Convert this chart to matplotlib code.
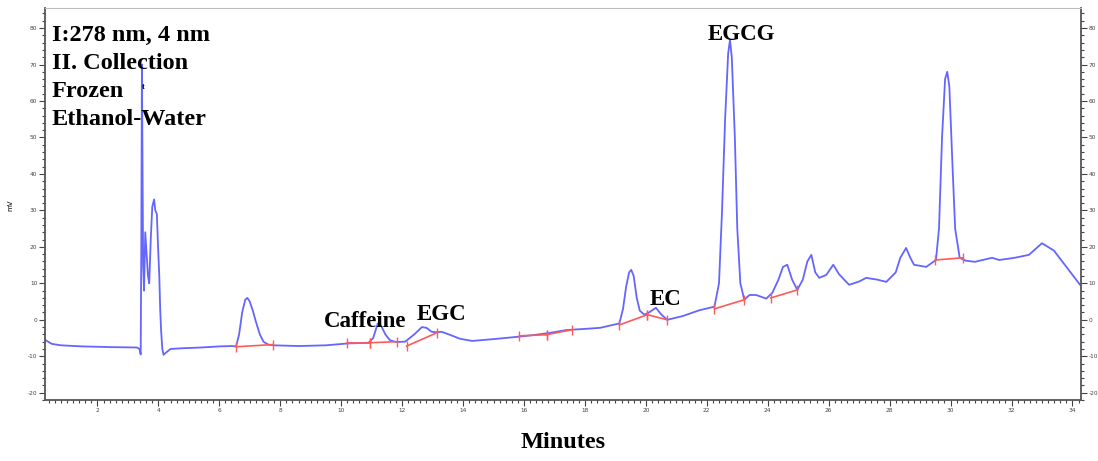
import matplotlib
matplotlib.use("Agg")
import matplotlib.pyplot as plt
from matplotlib.ticker import MultipleLocator

plt.rcParams["axes.unicode_minus"] = False

# chromatogram trace (minutes, signal)
time = [0.28, 0.5, 0.8, 1.5, 2.5, 3.3, 3.38, 3.42, 3.44, 3.46, 3.48, 3.50, 3.53,
        3.57, 3.60, 3.66, 3.70, 3.75, 3.80, 3.86, 3.90, 3.95, 3.99, 4.03, 4.06,
        4.09, 4.13, 4.17, 4.25, 4.4, 4.8, 5.4, 6.0, 6.4, 6.55, 6.65, 6.75, 6.85,
        6.92, 7.0, 7.1, 7.2, 7.33, 7.45, 7.6, 7.8, 8.6, 9.5, 10.2, 10.9, 11.05,
        11.2, 11.3, 11.45, 11.6, 11.8, 12.1, 12.4, 12.65, 12.8, 12.97, 13.1, 13.3,
        13.56, 13.9, 14.3, 15.0, 15.75, 16.3, 16.84, 17.4, 18.0, 18.5, 19.13,
        19.25, 19.35, 19.45, 19.52, 19.6, 19.7, 19.8, 19.95, 20.1, 20.33, 20.5,
        20.7, 21.2, 21.75, 22.25, 22.4, 22.5, 22.6, 22.7, 22.76, 22.82, 22.92,
        23.0, 23.1, 23.23, 23.4, 23.62, 23.95, 24.15, 24.35, 24.5, 24.64, 24.8,
        24.97, 25.15, 25.3, 25.43, 25.56, 25.69, 25.92, 26.15, 26.34, 26.67, 27.0,
        27.23, 27.6, 27.89, 28.2, 28.35, 28.54, 28.68, 28.8, 29.2, 29.52, 29.62,
        29.72, 29.82, 29.89, 29.96, 30.05, 30.15, 30.3, 30.5, 30.8, 31.36, 31.6,
        32.1, 32.57, 33.0, 33.39, 34.25]
signal = [-5.5, -6.6, -7.0, -7.3, -7.5, -7.6, -8.0, -9.5, 20, 70, 40, 15, 8,
          24, 20, 12, 10, 22, 31, 33, 30, 29, 20, 12, 3,
          -3, -8, -9.6, -9, -8, -7.8, -7.6, -7.3, -7.2, -7.3, -4, 2, 5.5,
          6.0, 5, 2.5, -0.5, -4, -6, -6.8, -7.0, -7.2, -7.0, -6.5, -6.3, -5,
          -1, -1.5, -4, -5.6, -6.1, -6.0, -4.0, -2.0, -2.2, -3.3, -3.4, -3.3,
          -4.1, -5.2, -5.8, -5.3, -4.7, -4.2, -3.6, -2.8, -2.5, -2.2, -1.0,
          3, 9, 13, 13.7, 12, 6, 2.5, 1.4, 2.0, 3.3, 1.5,
          0.0, 1.0, 2.6, 3.6, 10, 30, 55, 73, 76.7, 72, 50,
          25, 10, 5.5, 6.8, 6.8, 5.8, 7.4, 11, 14.5, 15.1, 11,
          8.2, 11, 16, 17.8, 13, 11.5, 12.3, 15.1, 12.5, 9.6, 10.5,
          11.5, 11.0, 10.4, 13, 17, 19.7, 17, 15.1, 14.5, 16.4, 25,
          50, 66, 68, 64, 45, 25, 17, 16.2, 15.9, 17.0, 16.4,
          17.0, 17.8, 21, 19, 9.6]

# integration baselines: start time, start value, end time, end value
base_t0 = [6.56, 10.18, 10.93, 12.15, 15.85, 16.74, 19.13, 20.05, 22.25, 24.1, 29.5]
base_y0 = [-7.4, -6.3, -6.3, -7.2, -4.4, -4.1, -1.4, 1.4, 3.0, 6.0, 16.4]
base_t1 = [7.75, 10.93, 11.82, 13.13, 16.74, 17.59, 20.05, 20.7, 23.23, 24.97, 30.4]
base_y1 = [-6.8, -6.3, -6.0, -3.6, -4.1, -2.7, 1.4, 0.0, 5.5, 8.2, 17.0]

# peak labels
peak_names = ["Caffeine", "EGC", "EC", "EGCG"]
peak_t = [10.8, 13.3, 20.65, 23.15]
peak_y = [-1.9, 0.0, 4.1, 76.6]

# run description, one text per line
header_lines = ["I:278 nm, 4 nm", "II. Collection", "Frozen", "Ethanol-Water"]
header_y = [78.1, 70.4, 62.5, 54.8]

fig = plt.figure(figsize=(10.98, 4.61), dpi=100)
ax = fig.add_axes([0.041, 0.1323, 0.9435, 0.8503])

ax.plot(time, signal, color="#4a4aff", lw=1.3, alpha=0.85)
for t0, y0, t1, y1 in zip(base_t0, base_y0, base_t1, base_y1):
    ax.plot([t0, t1], [y0, y1], color="#ff5a5a", lw=1.2)
    ax.plot([t0, t1], [y0, y1], ls="none", marker="|", ms=7, color="#ff5a5a", mew=1.0)

serif = ["Liberation Serif", "DejaVu Serif"]
for name, t, y in zip(peak_names, peak_t, peak_y):
    ax.text(t, y, name, ha="center", va="baseline", fontsize=16.5,
            fontweight="bold", family=serif)
for line, y in zip(header_lines, header_y):
    ax.text(0.5, y, line, ha="left", va="center", fontsize=17.5,
            fontweight="bold", family=serif)
ax.text(3.52, 63.8, "t", ha="center", va="center", fontsize=6,
        fontweight="bold", family=serif)

ax.set_xlim(0.28, 34.28)
ax.set_ylim(-22, 85.5)
ax.xaxis.set_major_locator(MultipleLocator(2))
ax.xaxis.set_minor_locator(MultipleLocator(0.2))
ax.yaxis.set_major_locator(MultipleLocator(10))
ax.yaxis.set_minor_locator(MultipleLocator(2))
ax.tick_params(axis="both", which="both", direction="out", labelsize=4.2,
               colors="#444444", width=0.8, pad=1.5)
ax.tick_params(axis="y", which="both", right=True, labelright=True)
ax.tick_params(which="major", length=4)
ax.tick_params(which="minor", length=2)
for side in ["left", "bottom", "right"]:
    ax.spines[side].set_color("#555555")
    ax.spines[side].set_linewidth(1.3)
ax.spines["top"].set_color("#bbbbbb")

ax.set_xlabel("Minutes", fontsize=17.5, fontweight="bold", family=serif, labelpad=14)
fig.text(0.009, 0.555, "mV", rotation=90, fontsize=5, ha="center", va="center")

fig.savefig("out.png", dpi=100)
